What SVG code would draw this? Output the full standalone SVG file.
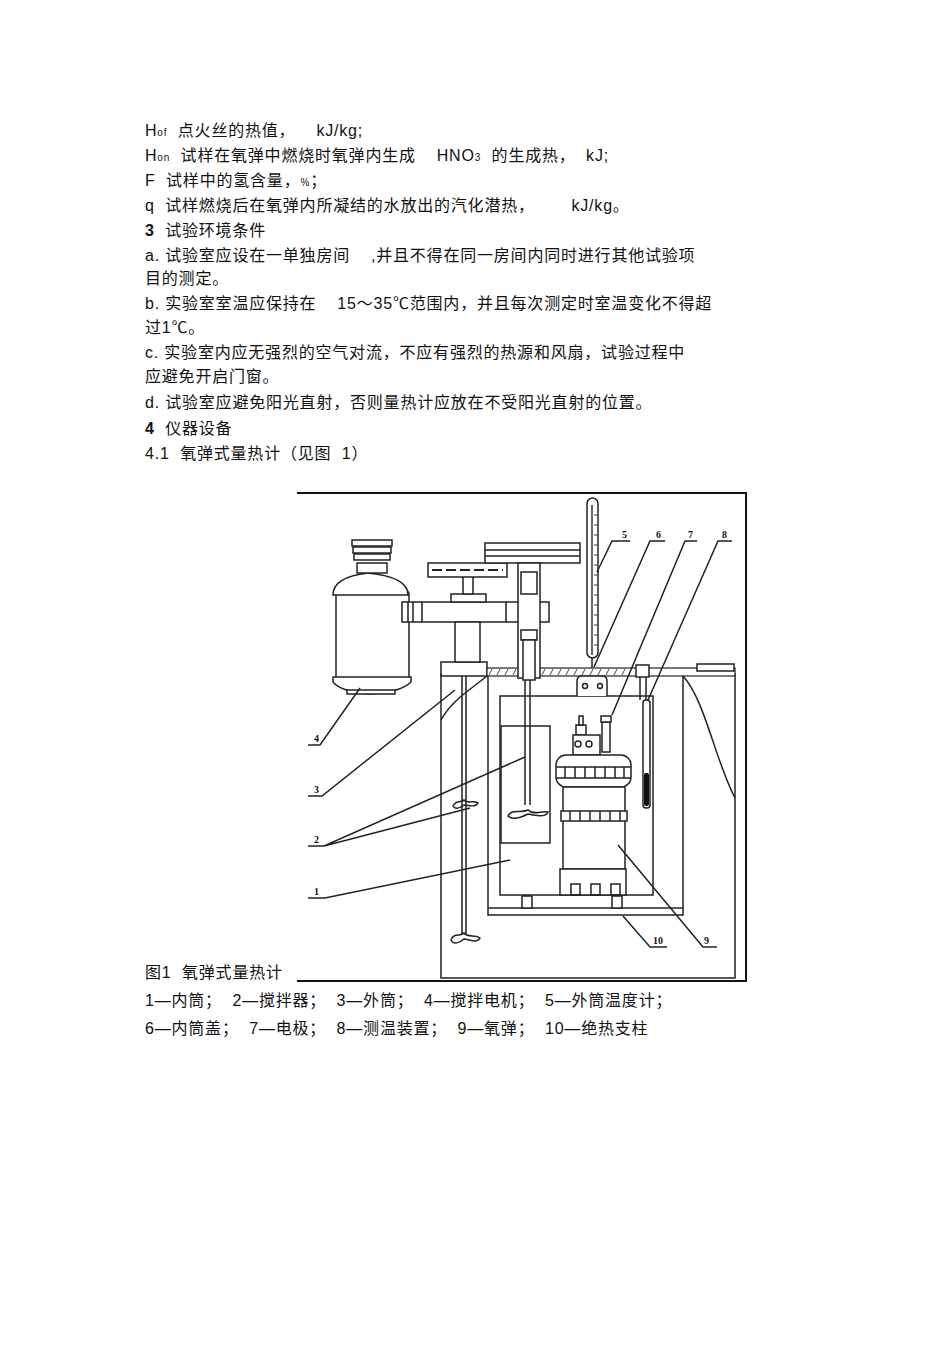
<svg xmlns="http://www.w3.org/2000/svg" width="950" height="1345" viewBox="0 0 950 1345">
<style>
.t{font-family:"Liberation Sans","Noto Sans CJK SC",sans-serif;font-size:16px;fill:#111;white-space:pre;letter-spacing:0.8px}
.s{font-size:10px}
.l{font-family:"Liberation Serif",serif;font-size:10px;font-weight:bold;fill:#111}
.d{fill:none;stroke:#222;stroke-width:1.5}
.w{fill:#fff;stroke:#222;stroke-width:1.5}
</style>
<rect width="950" height="1345" fill="#fff"/>
<g id="text">
<text class="t" x="145" y="136">H<tspan class="s">of</tspan>  点火丝的热值，    kJ/kg;</text>
<text class="t" x="145" y="161">H<tspan class="s">on</tspan>  试样在氧弹中燃烧时氧弹内生成    HNO<tspan class="s">3</tspan>  的生成热，  kJ;</text>
<text class="t" x="145" y="186">F  试样中的氢含量，<tspan class="s">%</tspan>；</text>
<text class="t" x="145" y="211">q  试样燃烧后在氧弹内所凝结的水放出的汽化潜热，       kJ/kg。</text>
<text class="t" x="145" y="236"><tspan font-weight="bold">3</tspan>  试验环境条件</text>
<text class="t" x="145" y="261">a. 试验室应设在一单独房间    ,并且不得在同一房间内同时进行其他试验项</text>
<text class="t" x="145" y="284">目的测定。</text>
<text class="t" x="145" y="309">b. 实验室室温应保持在    15～35℃范围内，并且每次测定时室温变化不得超</text>
<text class="t" x="145" y="333">过1℃。</text>
<text class="t" x="145" y="358">c. 实验室内应无强烈的空气对流，不应有强烈的热源和风扇，试验过程中</text>
<text class="t" x="145" y="382">应避免开启门窗。</text>
<text class="t" x="145" y="408">d. 试验室应避免阳光直射，否则量热计应放在不受阳光直射的位置。</text>
<text class="t" x="145" y="434"><tspan font-weight="bold">4</tspan>  仪器设备</text>
<text class="t" x="145" y="459">4.1  氧弹式量热计（见图  1）</text>
<text class="t" x="145" y="978">图1  氧弹式量热计</text>
<text class="t" x="145" y="1006">1—内筒；  2—搅拌器；  3—外筒；  4—搅拌电机；  5—外筒温度计；</text>
<text class="t" x="145" y="1034">6—内筒盖；  7—电极；  8—测温装置；  9—氧弹；  10—绝热支柱</text>
</g>
<g id="frame"><path d="M297 493H746V981H297" fill="none" stroke="#111" stroke-width="2"/></g>
<g id="outer-can">
<rect class="d" x="441" y="674" width="294" height="304"/>
<rect class="w" x="441" y="662" width="46" height="14"/>
<rect x="487" y="668" width="248" height="8" fill="#fff" stroke="#222" stroke-width="1.2"/>
<path d="M492 669l-3 6M500 669l-3 6M508 669l-3 6M516 669l-3 6M545 669l-3 6M553 669l-3 6M561 669l-3 6M569 669l-3 6M577 669l-3 6M585 669l-3 6M593 669l-3 6M601 669l-3 6M609 669l-3 6M617 669l-3 6M625 669l-3 6" stroke="#444" stroke-width="1"/>
<rect class="w" x="697" y="664" width="37" height="7"/>
<path class="d" d="M441 720C452 700 470 690 487 676M683 676C705 700 715 760 735 798"/>
</g>
<g id="jacket">
<path class="d" d="M488 676V915H683V676M488 908H683"/>
</g>
<g id="inner-can">
<rect class="d" x="500" y="696" width="153" height="199"/>
<rect class="d" x="501" y="726" width="49" height="117"/>
<path class="d" d="M525 640V805M530 676V805"/>
<path class="d" d="M508 816c4-8 12-2 20-6c6 6 14 0 20 2c-2 6-12 4-20 2c-8 4-16 6-20 2z"/>
<rect class="w" x="522" y="896" width="10" height="12"/>
<rect class="w" x="612" y="896" width="10" height="12"/>
</g>
<g id="bomb">
<rect class="w" x="576" y="725" width="10" height="10"/>
<rect class="w" x="579" y="716" width="4" height="9"/>
<rect class="w" x="602" y="722" width="8" height="30"/>
<rect class="w" x="601" y="716" width="10" height="6"/>
<rect class="w" x="573" y="735" width="27" height="20"/>
<circle cx="578" cy="744" r="3" class="d"/><circle cx="589" cy="744" r="3" class="d"/>
<rect class="w" x="556" y="755" width="75" height="32" rx="10"/>
<path class="d" d="M556 767H631M556 778H631M565 767v11M575 767v11M585 767v11M595 767v11M605 767v11M615 767v11M624 767v11"/>
<rect class="w" x="563" y="787" width="62" height="82"/>
<rect class="w" x="561" y="811" width="66" height="10"/>
<path class="d" d="M570 811v10M580 811v10M590 811v10M600 811v10M610 811v10M620 811v10"/>
<rect class="w" x="560" y="869" width="66" height="26"/>
<rect class="d" x="571" y="884" width="9" height="11"/><rect class="d" x="591" y="884" width="9" height="11"/><rect class="d" x="611" y="884" width="9" height="11"/>
</g>
<g id="lid">
<path class="w" d="M577 696V681q0-5 5-5H602q5 0 5 5V696"/>
<circle cx="585" cy="686" r="2.5" class="d"/><circle cx="600" cy="686" r="2.5" class="d"/>
</g>
<g id="thermo8">
<rect class="w" x="636" y="665" width="13" height="12"/>
<path class="d" d="M640 677V700M646 677V760"/>
<rect class="w" x="643" y="700" width="7" height="108" rx="3"/>
<rect x="644" y="773" width="5" height="33" rx="2" fill="#111"/>
</g>
<g id="thermo5">
<rect class="w" x="587" y="498" width="11" height="160" rx="5.5"/>
<path d="M592 505V655" stroke="#333" stroke-width="1.5"/>
<path d="M594 515h3M594 525h3M594 535h3M594 545h3M594 555h3M594 565h3M594 575h3M594 585h3M594 595h3M594 605h3M594 615h3M594 625h3M594 635h3M594 645h3" stroke="#333"/>
<path class="d" d="M592 658V668"/>
</g>
<g id="motor">
<rect class="w" x="336" y="590" width="73" height="92" rx="4"/>
<path class="w" d="M333 595q0-18 35-22q40 4 40 22z"/>
<path class="w" d="M333 677h78v5q-10 10-40 12q-30-2-38-12z"/>
<rect class="w" x="347" y="690" width="48" height="4"/>
<rect class="w" x="357" y="563" width="30" height="10"/>
<rect class="w" x="352" y="540" width="40" height="6"/>
<rect class="w" x="353" y="547" width="38" height="6"/>
<rect class="w" x="354" y="554" width="36" height="6"/>
</g>
<g id="arm">
<rect class="w" x="402" y="602" width="147" height="20"/>
<path class="d" d="M408 602v20M413 602v20M422 602v20M506 602v20"/>
<rect class="w" x="455" y="622" width="25" height="40"/>
<rect class="w" x="451" y="594" width="35" height="8"/>
<rect class="w" x="463" y="576" width="10" height="18"/>
<rect class="w" x="428" y="563" width="79" height="14"/>
<path d="M432 570H503" stroke="#222" stroke-width="2" stroke-dasharray="10 4"/>
<rect class="w" x="485" y="543" width="95" height="20"/>
<path class="d" d="M485 550H580M485 556H580"/>
<rect class="w" x="518" y="563" width="22" height="115"/>
<rect class="w" x="521" y="572" width="16" height="22"/>
<rect class="w" x="521" y="630" width="16" height="10"/>
<rect class="w" x="523" y="640" width="12" height="40"/>
</g>
<g id="outer-stirrer">
<path class="d" d="M462 676V935M466 676V935"/>
<path class="d" d="M453 806c3-7 9-3 11-6c3 4 10 0 14 3c-3 5-9 2-14 2c-4 3-9 5-11 1zM451 940c3-8 10-3 13-7c3 5 12 1 16 5c-3 6-11 1-16 1c-4 4-11 6-13 1z"/>
</g>
<g id="connectors" class="d" stroke-width="1.2">
<path d="M308 745H320L360 688M308 796H322L455 690M308 846H324L525 757M324 846L470 808M308 898H325L510 860"/>
<path d="M630 541H612L597 572M665 541H650L594 667M697 541H685L612 715M732 541H718L648 700"/>
<path d="M667 947H650L623 916M717 947H703L618 845"/>
</g>
<g id="labels">
<text class="l" x="314" y="742">4</text><text class="l" x="314" y="793">3</text><text class="l" x="314" y="843">2</text><text class="l" x="314" y="895">1</text>
<text class="l" x="622" y="538">5</text><text class="l" x="656" y="538">6</text><text class="l" x="688" y="538">7</text><text class="l" x="722" y="538">8</text>
<text class="l" x="653" y="944">10</text><text class="l" x="704" y="944">9</text>
</g>
</svg>
